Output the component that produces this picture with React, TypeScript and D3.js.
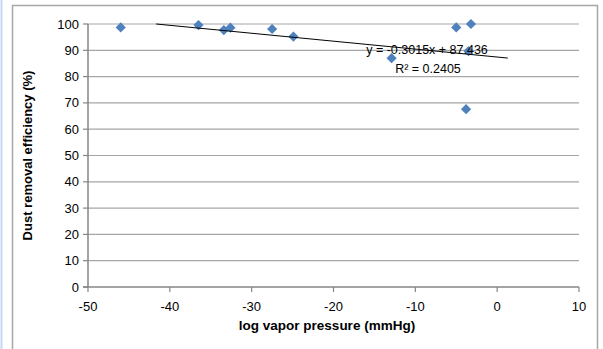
import * as d3 from "d3";

const pressure = [-46, -36.5, -33.4, -32.6, -27.5, -24.9, -12.9, -5.0, -3.2, -3.5, -3.8];
const efficiency = [98.7, 99.6, 97.7, 98.6, 98.1, 95.2, 87.0, 98.7, 100, 89.7, 67.6];
const xTicks = [-50, -40, -30, -20, -10, 0, 10];
const yTicks = [0, 10, 20, 30, 40, 50, 60, 70, 80, 90, 100];
const slope = -0.3015;
const intercept = 87.436;
const trendRange = [-46, 1.3];

export default function App() {
  const width = 603;
  const height = 349;
  const margin = { top: 24, right: 24, bottom: 62, left: 88 };
  const font = "Liberation Sans, Arial, sans-serif";

  const x = d3.scaleLinear().domain([-50, 10]).range([margin.left, width - margin.right]);
  const y = d3.scaleLinear().domain([0, 100]).range([height - margin.bottom, margin.top]);

  // trendline clipped at the plot top
  const tStart = Math.max(trendRange[0], (100 - intercept) / slope);
  const trend = d3.line<number>()
    .x((d) => x(d))
    .y((d) => y(slope * d + intercept))([tStart, trendRange[1]]);

  // square turned 45° gives Excel's diamond marker
  const diamond = d3.symbol(d3.symbolSquare, 52)();

  return (
    <div style={{ position: "fixed", left: 0, top: 0 }}>
      <svg width={width} height={height} style={{ display: "block", background: "#fff" }}>
        <line x1={1.5} x2={1.5} y1={0} y2={height} stroke="#C6D9F1" strokeWidth={2} />
        <rect x={12.5} y={5.5} width={585} height={360} fill="#fff" stroke="#A6A6A6" strokeWidth={1.5} />

        {yTicks.filter((t) => t > 0).map((t) => (
          <line key={t} x1={x(-50)} x2={x(10)} y1={y(t)} y2={y(t)} stroke="#A6A6A6" strokeWidth={1.2} />
        ))}

        <line x1={x(-50)} x2={x(-50)} y1={y(0)} y2={y(100)} stroke="#868686" strokeWidth={1.5} />
        <line x1={x(-50) - 5} x2={x(10)} y1={y(0)} y2={y(0)} stroke="#868686" strokeWidth={1.5} />

        {yTicks.map((t) => (
          <g key={t}>
            <line x1={x(-50) - 5} x2={x(-50)} y1={y(t)} y2={y(t)} stroke="#868686" strokeWidth={1.2} />
            <text x={x(-50) - 9} y={y(t) + 4.5} textAnchor="end" fontSize={13} fontFamily={font} fill="#000">
              {t}
            </text>
          </g>
        ))}

        {xTicks.map((t) => (
          <g key={t}>
            <line x1={x(t)} x2={x(t)} y1={y(0)} y2={y(0) + 5} stroke="#868686" strokeWidth={1.2} />
            <text x={x(t)} y={y(0) + 24} textAnchor="middle" fontSize={13} fontFamily={font} fill="#000">
              {t}
            </text>
          </g>
        ))}

        {pressure.map((p, i) => (
          <path
            key={i}
            d={diamond ?? ""}
            transform={`translate(${x(p)},${y(efficiency[i])}) rotate(45)`}
            fill="#4F81BD"
          />
        ))}

        <path d={trend ?? ""} fill="none" stroke="#000" strokeWidth={1} />

        <text x={427} y={54} textAnchor="middle" fontSize={12.5} fontFamily={font} fill="#000">
          y = -0.3015x + 87.436
        </text>
        <text x={428} y={73} textAnchor="middle" fontSize={12.5} fontFamily={font} fill="#000">
          R² = 0.2405
        </text>

        <text
          transform={`translate(32,${(y(0) + y(100)) / 2}) rotate(-90)`}
          textAnchor="middle"
          fontSize={13}
          fontWeight="bold"
          fontFamily={font}
          fill="#000"
        >
          Dust removal efficiency (%)
        </text>
        <text x={327} y={330} textAnchor="middle" fontSize={13.5} fontWeight="bold" fontFamily={font} fill="#000">
          log vapor pressure (mmHg)
        </text>
      </svg>
    </div>
  );
}
